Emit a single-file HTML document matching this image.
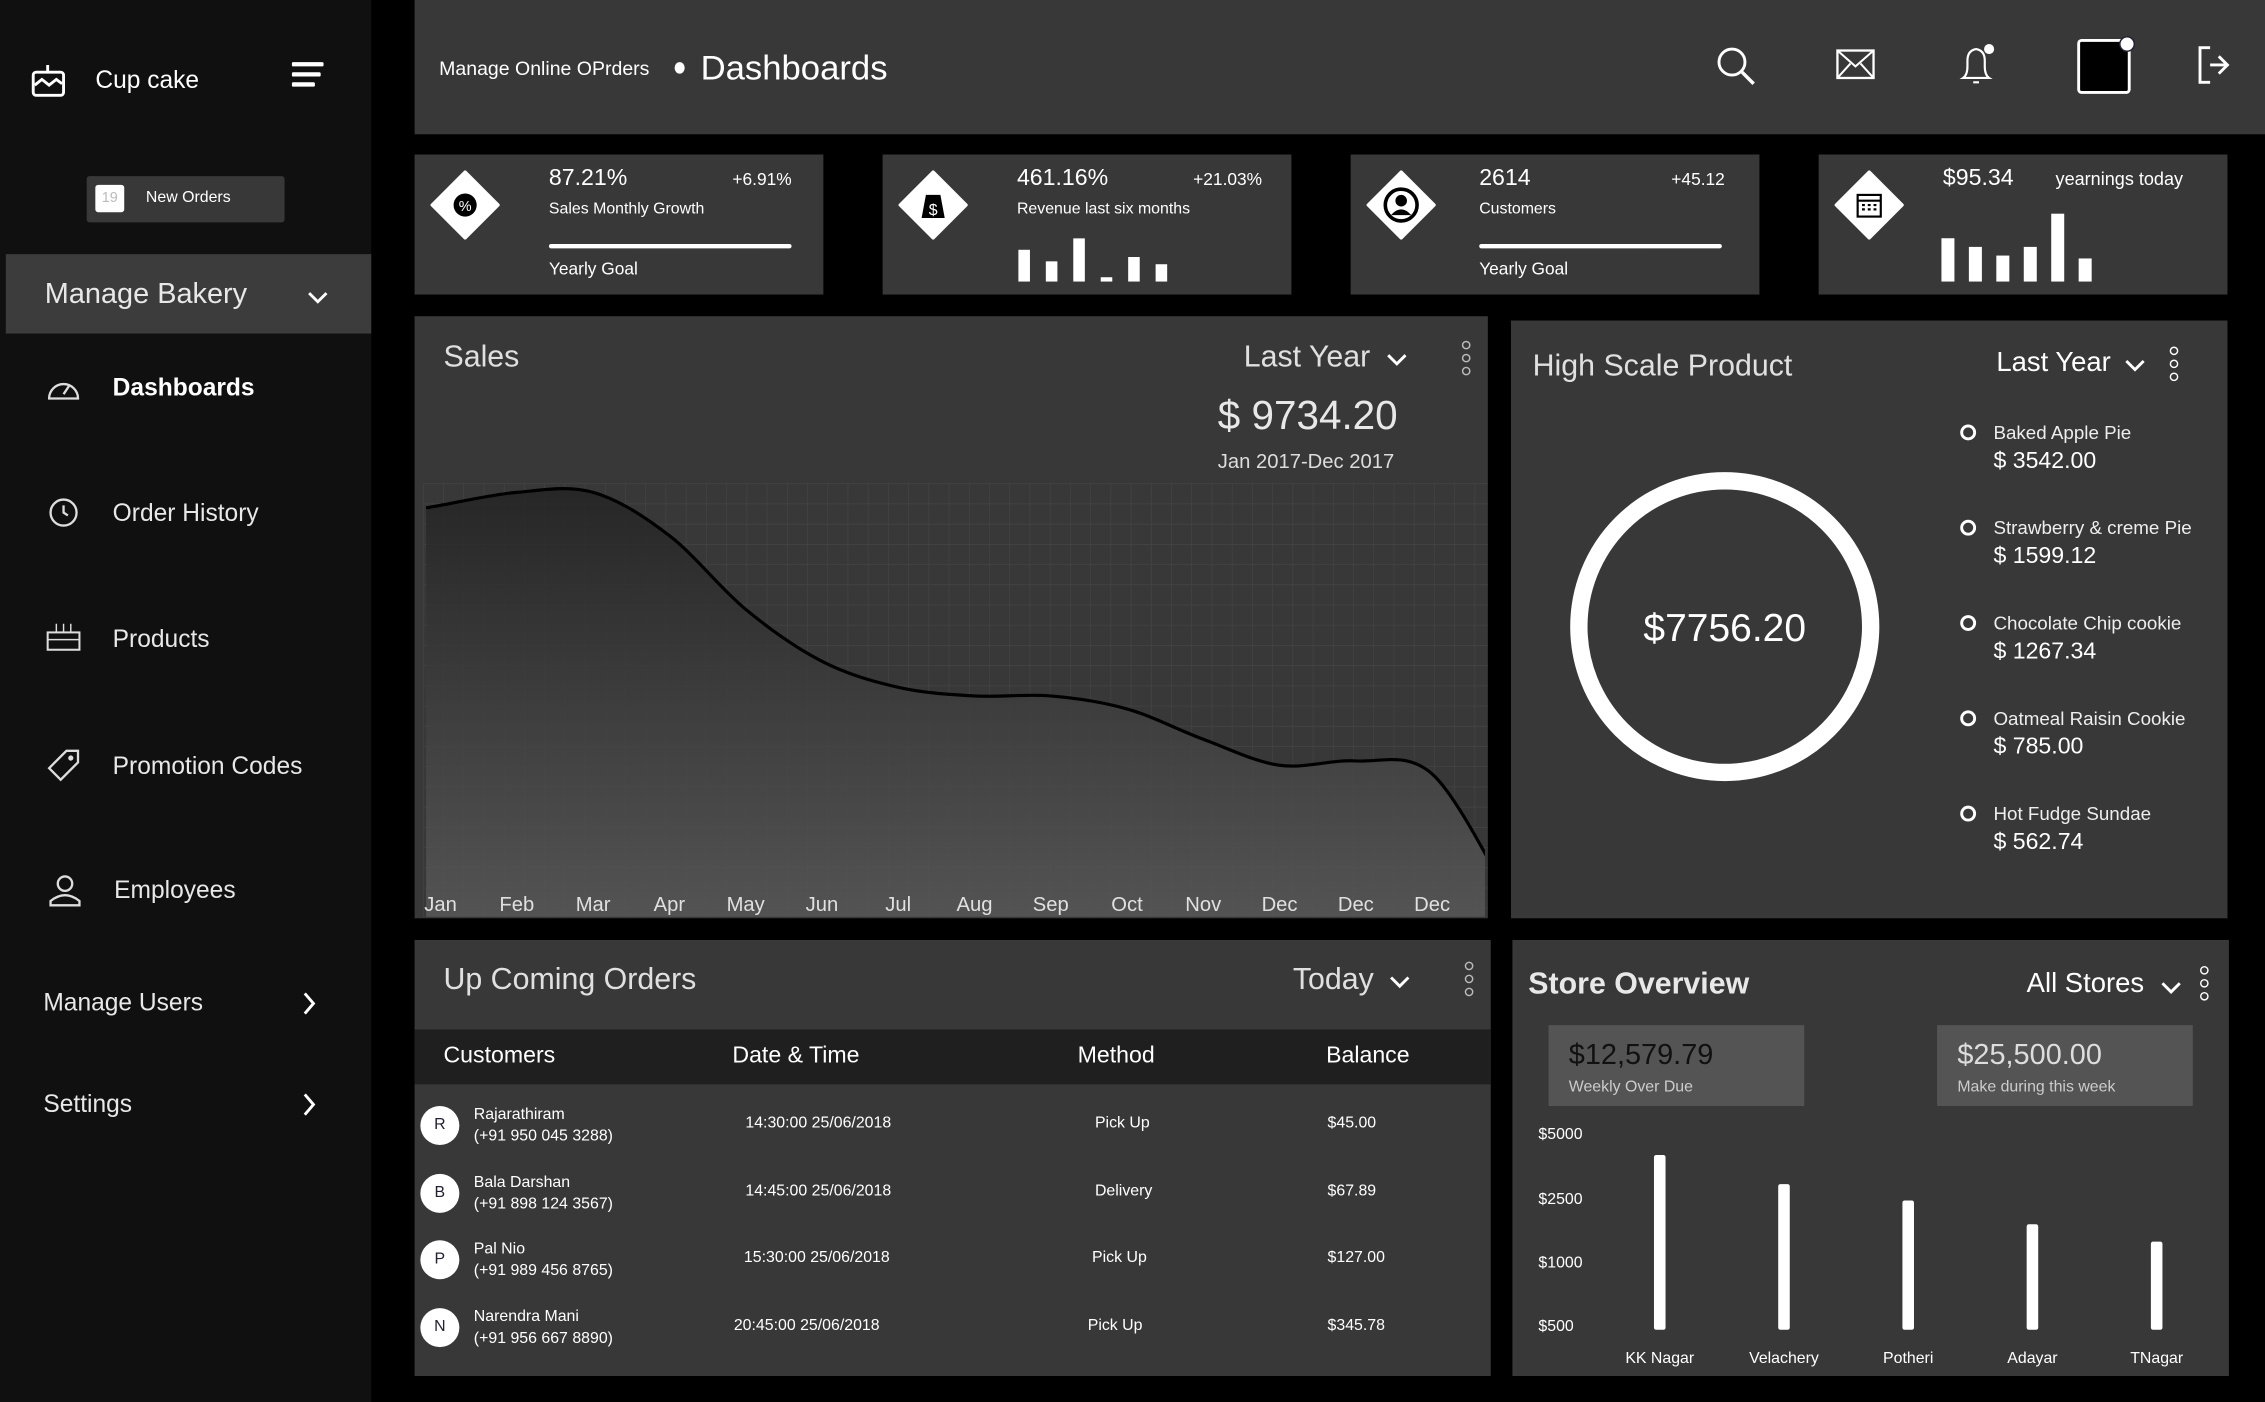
<!DOCTYPE html>
<html><head><meta charset="utf-8">
<style>
html,body{margin:0;padding:0;background:#000;overflow:hidden;width:2265px;height:1402px}
#root{position:absolute;left:0;top:0;width:1568px;height:971px;transform-origin:0 0;transform:scale(1.44452,1.44387);background:#000;font-family:"Liberation Sans",sans-serif;color:#fff}
.a{position:absolute}
.p{position:absolute;background:#383838}
.t{position:absolute;white-space:nowrap}
.nav{position:absolute;left:78px;font-size:17px;color:#e8e8e8}
.dots{position:absolute;width:4px}
.dots i{display:block;width:4px;height:4px;border:1px solid #bbb;border-radius:50%;margin-bottom:3px}
</style></head><body>
<div id="root">
<!-- sidebar -->
<div class="a" style="left:0;top:0;width:257px;height:971px;background:#101010"></div>
<svg class="a" style="left:21px;top:44px" width="26" height="24" viewBox="0 0 26 24"><rect x="2" y="6" width="21" height="16" rx="2" fill="none" stroke="#fff" stroke-width="2"/><path d="M3 15 L8 11 L13 15 L18 11 L22 14" fill="none" stroke="#fff" stroke-width="2"/><line x1="12" y1="1" x2="12" y2="6" stroke="#fff" stroke-width="2"/></svg>
<div class="t" style="left:66px;top:46px;font-size:17px">Cup cake</div>
<svg class="a" style="left:202px;top:42px" width="24" height="20"><rect x="0" y="1" width="22" height="3" rx="1" fill="#fff"/><rect x="0" y="8" width="20" height="3" rx="1" fill="#fff"/><rect x="0" y="15" width="16" height="3" rx="1" fill="#fff"/></svg>
<div class="a" style="left:60px;top:122px;width:137px;height:32px;background:#383838;border-radius:2px">
 <div class="a" style="left:6px;top:6px;width:20px;height:19px;background:#fff;border-radius:2px;color:#bbb;font-size:10px;text-align:center;line-height:19px">19</div>
 <div class="t" style="left:41px;top:9px;font-size:11px">New Orders</div>
</div>
<div class="a" style="left:4px;top:176px;width:253px;height:55px;background:#3c3c3c">
 <div class="t" style="left:27px;top:17px;font-size:20px;color:#e8e8e8">Manage Bakery</div>
 <svg class="a" style="left:208px;top:25px" width="16" height="10"><path d="M2 2 L8 8 L14 2" fill="none" stroke="#fff" stroke-width="2"/></svg>
</div>
<svg class="a" style="left:31px;top:257px" width="26" height="22"><path d="M3 19 A10 10 0 1 1 23 19 Z" fill="none" stroke="#ddd" stroke-width="1.6"/><line x1="13" y1="16" x2="17" y2="10" stroke="#ddd" stroke-width="1.6"/></svg>
<div class="nav" style="top:259px;color:#fff;font-weight:bold">Dashboards</div>
<svg class="a" style="left:32px;top:343px" width="24" height="24"><circle cx="12" cy="12" r="9" fill="none" stroke="#ddd" stroke-width="1.6"/><path d="M12 7 V12 L15 14" fill="none" stroke="#ddd" stroke-width="1.6"/></svg>
<div class="nav" style="top:346px">Order History</div>
<svg class="a" style="left:31px;top:430px" width="26" height="22"><rect x="2" y="8" width="22" height="12" fill="none" stroke="#ddd" stroke-width="1.4"/><line x1="2" y1="13" x2="24" y2="13" stroke="#ddd"/><line x1="8" y1="2" x2="8" y2="8" stroke="#ddd"/><line x1="13" y1="2" x2="13" y2="8" stroke="#ddd"/><line x1="18" y1="2" x2="18" y2="8" stroke="#ddd"/></svg>
<div class="nav" style="top:433px">Products</div>
<svg class="a" style="left:31px;top:517px" width="26" height="26"><path d="M3 15 L15 3 H23 V11 L11 23 Z" fill="none" stroke="#ddd" stroke-width="1.6"/><circle cx="18" cy="8" r="1.8" fill="#ddd"/></svg>
<div class="nav" style="top:521px">Promotion Codes</div>
<svg class="a" style="left:33px;top:604px" width="24" height="24"><circle cx="12" cy="8" r="5" fill="none" stroke="#ddd" stroke-width="1.6"/><path d="M2 23 V20 Q12 12 22 20 V23 Z" fill="none" stroke="#ddd" stroke-width="1.6"/></svg>
<div class="nav" style="top:607px;left:79px">Employees</div>
<div class="nav" style="left:30px;top:685px">Manage Users</div>
<svg class="a" style="left:208px;top:686px" width="12" height="18"><path d="M3 2 L9 9 L3 16" fill="none" stroke="#fff" stroke-width="2"/></svg>
<div class="nav" style="left:30px;top:755px">Settings</div>
<svg class="a" style="left:208px;top:756px" width="12" height="18"><path d="M3 2 L9 9 L3 16" fill="none" stroke="#fff" stroke-width="2"/></svg>

<!-- header -->
<div class="p" style="left:287px;top:0;width:1281px;height:93px">
 <div class="t" style="left:17px;top:40px;font-size:13.5px">Manage Online OPrders</div>
 <div class="a" style="left:180px;top:43px;width:7px;height:8px;border-radius:50%;background:#fff"></div>
 <div class="t" style="left:198px;top:34px;font-size:24px">Dashboards</div>
 <svg class="a" style="left:900px;top:31px" width="30" height="30"><circle cx="12" cy="12" r="9" fill="none" stroke="#fff" stroke-width="2"/><line x1="19" y1="19" x2="27" y2="27" stroke="#fff" stroke-width="2.4"/></svg>
 <svg class="a" style="left:984px;top:33px" width="28" height="24"><rect x="1" y="2" width="25" height="19" fill="none" stroke="#fff" stroke-width="1.6"/><path d="M1 2 L13.5 13 L26 2 M1 21 L10 11 M26 21 L17 11" fill="none" stroke="#fff" stroke-width="1.4"/></svg>
 <svg class="a" style="left:1067px;top:30px" width="30" height="30"><path d="M5 24 Q8 22 8 16 V12 Q8 5 14 4 Q20 5 20 12 V16 Q20 22 23 24 Z" fill="none" stroke="#fff" stroke-width="1.5"/><line x1="12" y1="27" x2="16" y2="27" stroke="#fff" stroke-width="1.5"/><circle cx="23" cy="4" r="3.5" fill="#fff"/></svg>
 <div class="a" style="left:1151px;top:27px;width:33px;height:34px;background:#000;border:2px solid #fff;border-radius:3px"></div>
 <div class="a" style="left:1180px;top:25px;width:9px;height:9px;border-radius:50%;background:#fff;border:1px solid #223"></div>
 <svg class="a" style="left:1233px;top:31px" width="26" height="28"><path d="M10 2 H3 V26 H10" fill="none" stroke="#fff" stroke-width="2"/><path d="M10 14 H22 M16 8 L22 14 L16 20" fill="none" stroke="#fff" stroke-width="2"/></svg>
</div>

<!-- KPI cards -->
<div class="p" style="left:287px;top:107px;width:283px;height:97px">
 <svg class="a" style="left:11px;top:11px" width="48" height="48"><path d="M24 1 L47 24 L24 47 L1 24 Z" fill="#fff" stroke="#fff" stroke-width="2" stroke-linejoin="round"/><circle cx="24" cy="24" r="8" fill="#000"/><text x="24" y="28" font-size="10" fill="#fff" text-anchor="middle" font-family="Liberation Sans">%</text></svg>
 <div class="t" style="left:93px;top:8px;font-size:16px">87.21%</div>
 <div class="t" style="left:220px;top:10px;font-size:12px">+6.91%</div>
 <div class="t" style="left:93px;top:32px;font-size:11px">Sales Monthly Growth</div>
 <div class="a" style="left:93px;top:62px;width:168px;height:3px;background:#fff;border-radius:2px"></div>
 <div class="t" style="left:93px;top:72px;font-size:12px">Yearly Goal</div>
</div>
<div class="p" style="left:611px;top:107px;width:283px;height:97px">
 <svg class="a" style="left:11px;top:11px" width="48" height="48"><path d="M24 1 L47 24 L24 47 L1 24 Z" fill="#fff" stroke="#fff" stroke-width="2" stroke-linejoin="round"/><path d="M19 17 H29 L32 33 H16 Z" fill="#000"/><text x="24" y="31" font-size="11" fill="#fff" text-anchor="middle" font-family="Liberation Sans">$</text></svg>
 <div class="t" style="left:93px;top:8px;font-size:16px">461.16%</div>
 <div class="t" style="left:215px;top:10px;font-size:12px">+21.03%</div>
 <div class="t" style="left:93px;top:32px;font-size:11px">Revenue last six months</div>
 <svg id="revbars" class="a" style="left:90px;top:58px" width="120" height="32"></svg>
</div>
<div class="p" style="left:935px;top:107px;width:283px;height:97px">
 <svg class="a" style="left:11px;top:11px" width="48" height="48"><path d="M24 1 L47 24 L24 47 L1 24 Z" fill="#fff" stroke="#fff" stroke-width="2" stroke-linejoin="round"/><circle cx="24" cy="24" r="11" fill="none" stroke="#000" stroke-width="2.5"/><circle cx="24" cy="21" r="4" fill="#000"/><path d="M17 31 Q24 23 31 31" fill="#000"/></svg>
 <div class="t" style="left:89px;top:8px;font-size:16px">2614</div>
 <div class="t" style="left:222px;top:10px;font-size:12px">+45.12</div>
 <div class="t" style="left:89px;top:32px;font-size:11px">Customers</div>
 <div class="a" style="left:89px;top:62px;width:168px;height:3px;background:#fff;border-radius:2px"></div>
 <div class="t" style="left:89px;top:72px;font-size:12px">Yearly Goal</div>
</div>
<div class="p" style="left:1259px;top:107px;width:283px;height:97px">
 <svg class="a" style="left:11px;top:11px" width="48" height="48"><path d="M24 1 L47 24 L24 47 L1 24 Z" fill="#fff" stroke="#fff" stroke-width="2" stroke-linejoin="round"/><rect x="16" y="17" width="16" height="15" fill="none" stroke="#000" stroke-width="1.5"/><line x1="16" y1="21" x2="32" y2="21" stroke="#000" stroke-width="1.5"/><path d="M19 24h2M23 24h2M27 24h2M19 27h2M23 27h2M27 27h2" stroke="#000" stroke-width="1.5"/></svg>
 <div class="t" style="left:86px;top:8px;font-size:16px">$95.34</div>
 <div class="t" style="left:164px;top:10px;font-size:12.5px">yearnings today</div>
 <svg id="earnbars" class="a" style="left:84px;top:38px" width="110" height="52"></svg>
</div>

<!-- Sales panel -->
<div class="p" style="left:287px;top:219px;width:743px;height:417px"></div>
<div class="t" style="left:307px;top:236px;font-size:21px;color:#e0e0e0">Sales</div>
<div class="t" style="left:861px;top:236px;font-size:21px;color:#e0e0e0">Last Year</div>
<svg class="a" style="left:959px;top:244px" width="16" height="10"><path d="M2 2 L8 8 L14 2" fill="none" stroke="#fff" stroke-width="2"/></svg>
<div class="dots" style="left:1012px;top:236px"><i></i><i></i><i></i></div>
<div class="t" style="left:843px;top:272px;font-size:28px;color:#e8e8e8">$ 9734.20</div>
<div class="t" style="left:843px;top:311px;font-size:14px;color:#ddd">Jan 2017-Dec 2017</div>
<svg id="sales" class="a" style="left:287px;top:219px" width="743" height="417"></svg>

<!-- High scale product -->
<div class="p" style="left:1046px;top:222px;width:496px;height:414px">
 <div class="t" style="left:15px;top:20px;font-size:21px;color:#e0e0e0">High Scale Product</div>
 <div class="t" style="left:336px;top:19px;font-size:19px">Last Year</div>
 <svg class="a" style="left:424px;top:26px" width="16" height="10"><path d="M2 2 L8 8 L14 2" fill="none" stroke="#fff" stroke-width="2"/></svg>
 <div class="dots" style="left:456px;top:18px"><i style="border-color:#fff"></i><i style="border-color:#fff"></i><i style="border-color:#fff"></i></div>
 <svg class="a" style="left:40px;top:104px" width="216" height="216"><circle cx="108" cy="108" r="101" fill="none" stroke="#fff" stroke-width="12"/><text x="108" y="118" font-size="27" fill="#fff" text-anchor="middle" font-family="Liberation Sans">$7756.20</text></svg>
 <div id="legend"></div>
</div>

<!-- Upcoming orders -->
<div class="p" style="left:287px;top:651px;width:745px;height:302px">
 <div class="t" style="left:20px;top:16px;font-size:21px;color:#e0e0e0">Up Coming Orders</div>
 <div class="t" style="left:608px;top:16px;font-size:21px;color:#e0e0e0">Today</div>
 <svg class="a" style="left:674px;top:24px" width="16" height="10"><path d="M2 2 L8 8 L14 2" fill="none" stroke="#fff" stroke-width="2"/></svg>
 <div class="dots" style="left:727px;top:15px"><i></i><i></i><i></i></div>
 <div class="a" style="left:0;top:62px;width:745px;height:38px;background:#1f1f1f">
  <div class="t" style="left:20px;top:10px;font-size:16px">Customers</div>
  <div class="t" style="left:220px;top:10px;font-size:16px">Date &amp; Time</div>
  <div class="t" style="left:459px;top:10px;font-size:16px">Method</div>
  <div class="t" style="left:631px;top:10px;font-size:16px">Balance</div>
 </div>
 <div id="rows"></div>
</div>

<!-- Store overview -->
<div class="p" style="left:1047px;top:651px;width:496px;height:302px">
 <div class="t" style="left:11px;top:19px;font-size:21px;font-weight:bold;color:#e8e8e8">Store Overview</div>
 <div class="t" style="left:356px;top:20px;font-size:19px">All Stores</div>
 <svg class="a" style="left:448px;top:28px" width="16" height="10"><path d="M2 2 L8 8 L14 2" fill="none" stroke="#fff" stroke-width="2"/></svg>
 <div class="dots" style="left:476px;top:18px"><i style="border-color:#fff"></i><i style="border-color:#fff"></i><i style="border-color:#fff"></i></div>
 <div class="a" style="left:25px;top:59px;width:177px;height:56px;background:#545454">
  <div class="t" style="left:14px;top:10px;font-size:20px;color:#111">$12,579.79</div>
  <div class="t" style="left:14px;top:37px;font-size:11px;color:#ccc">Weekly Over Due</div>
 </div>
 <div class="a" style="left:294px;top:59px;width:177px;height:56px;background:#545454">
  <div class="t" style="left:14px;top:10px;font-size:20px;color:#ddd">$25,500.00</div>
  <div class="t" style="left:14px;top:37px;font-size:11px;color:#ccc">Make during this week</div>
 </div>
 <svg id="store" class="a" style="left:0;top:0" width="496" height="302"></svg>
</div>
</div>

<script>
// ---- data ----
const revenueBars = [22, 14, 30, 3, 17, 12];
const earningsBars = [30, 24, 18, 24, 47, 16];
const salesMonths = ["Jan","Feb","Mar","Apr","May","Jun","Jul","Aug","Sep","Oct","Nov","Dec","Dec","Dec"];
const salesValues = [95, 98, 98, 88, 71, 59, 53, 51, 51, 48, 41, 35, 36, 33, 5];
const productNames = ["Baked Apple Pie","Strawberry & creme Pie","Chocolate Chip cookie","Oatmeal Raisin Cookie","Hot Fudge Sundae"];
const productValues = ["$ 3542.00","$ 1599.12","$ 1267.34","$ 785.00","$ 562.74"];
const orderNames = ["Rajarathiram","Bala Darshan","Pal Nio","Narendra Mani"];
const orderPhones = ["(+91 950 045 3288)","(+91 898 124 3567)","(+91 989 456 8765)","(+91 956 667 8890)"];
const orderTimes = ["14:30:00 25/06/2018","14:45:00 25/06/2018","15:30:00 25/06/2018","20:45:00 25/06/2018"];
const orderMethods = ["Pick Up","Delivery","Pick Up","Pick Up"];
const orderBalances = ["$45.00","$67.89","$127.00","$345.78"];
const storeNames = ["KK Nagar","Velachery","Potheri","Adayar","TNagar"];
const storeValues = [4170, 3050, 2450, 1890, 1480];
const storeTicks = [500, 1000, 2500, 5000];
const storeTickLabels = ["$500","$1000","$2500","$5000"];

const NS = "http://www.w3.org/2000/svg";
function mk(tag, attrs, parent){const e=document.createElementNS(NS,tag);for(const k in attrs)e.setAttribute(k,attrs[k]);parent.appendChild(e);return e;}

// mini bars
(function(){
  const s=document.getElementById('revbars');
  revenueBars.forEach((v,i)=>{
    const r=mk('rect',{x:4+i*19,y:30-v,width:8,height:v,fill:'#fff'},s);
    
    
  });
  const e=document.getElementById('earnbars');
  earningsBars.forEach((v,i)=>{
    const r=mk('rect',{x:1+i*19,y:50-v,width:9,height:v,fill:'#fff'},e);
    
    
  });
})();

// sales chart
(function(){
  const s=document.getElementById('sales');
  const x0=6, x1=743, yTop=116, yBot=416;
  const xs=i=>18+i*52.8;
  const ys=v=>yBot-(v/100)*(yBot-yTop);
  const defs=mk('defs',{},s);
  const g=mk('linearGradient',{id:'ag',x1:0,y1:0,x2:0,y2:1},defs);
  mk('stop',{offset:'0','stop-color':'#222'},g);
  mk('stop',{offset:'1','stop-color':'#5a5a5a'},g);
  const cp=mk('clipPath',{id:'cp'},defs);
  mk('rect',{x:x0,y:yTop-5,width:x1-x0-2,height:yBot-yTop+5},cp);
  const grid=mk('g',{stroke:'#444','stroke-width':0.5},s);
  for(let gx=x0;gx<x1;gx+=14) mk('line',{x1:gx,y1:yTop,x2:gx,y2:yBot},grid);
  for(let gy=yTop;gy<yBot;gy+=14) mk('line',{x1:x0,y1:gy,x2:x1,y2:gy},grid);
  const pts=salesValues.map((v,i)=>[xs(i),ys(v)]);
  // extend to left edge
  const slope=(pts[1][1]-pts[0][1])/(pts[1][0]-pts[0][0]);
  pts.unshift([x0+2,pts[0][1]-slope*(pts[0][0]-x0-2)]);
  let d='M'+pts[0][0]+','+pts[0][1];
  for(let i=0;i<pts.length-1;i++){
    const p0=pts[Math.max(0,i-1)],p1=pts[i],p2=pts[i+1],p3=pts[Math.min(pts.length-1,i+2)];
    const c1=[p1[0]+(p2[0]-p0[0])/6,p1[1]+(p2[1]-p0[1])/6];
    const c2=[p2[0]-(p3[0]-p1[0])/6,p2[1]-(p3[1]-p1[1])/6];
    d+=` C${c1[0]},${c1[1]} ${c2[0]},${c2[1]} ${p2[0]},${p2[1]}`;
  }
  const last=pts[pts.length-1];
  const area=mk('path',{d:d+` L${last[0]},${yBot} L${pts[0][0]},${yBot} Z`,fill:'url(#ag)',opacity:0.8,'clip-path':'url(#cp)'},s);
  
  
  const line=mk('path',{d:d,fill:'none',stroke:'#000','stroke-width':2.2,'clip-path':'url(#cp)'},s);
  
  
  salesMonths.forEach((m,i)=>{
    const t=mk('text',{x:xs(i),y:412,'font-size':14,fill:'#e0e0e0','text-anchor':'middle','font-family':'Liberation Sans'},s);
    t.textContent=m;
    
    
  });
})();

// legend
(function(){
  const L=document.getElementById('legend');
  productNames.forEach((n,i)=>{
    const d=document.createElement('div');
    d.className='a';
    d.style.cssText=`left:310px;top:${70+i*66}px;width:180px;height:50px`;
    
    
    d.innerHTML=`<div class="a" style="left:1px;top:2px;width:7px;height:7px;border:2px solid #fff;border-radius:50%"></div><div class="t" style="left:24px;top:0;font-size:13px;color:#eee">${n}</div><div class="t" style="left:24px;top:19px;font-size:16px">${productValues[i]}</div>`;
    L.appendChild(d);
  });
})();

// orders rows
(function(){
  const R=document.getElementById('rows');
  orderNames.forEach((n,i)=>{
    const d=document.createElement('div');
    d.className='a';
    d.style.cssText=`left:0;top:${112+i*46.5}px;width:745px;height:40px`;
    
    
    const tx=[229,229,228,221][i], mx=[471,471,469,466][i];
    d.innerHTML=`<div class="a" style="left:4px;top:3px;width:27px;height:27px;border-radius:50%;background:#fff;color:#223;font-size:11px;text-align:center;line-height:27px">${n[0]}</div>
    <div class="t" style="left:41px;top:3px;font-size:11px">${n}</div>
    <div class="t" style="left:41px;top:18px;font-size:11px">${orderPhones[i]}</div>
    <div class="t" style="left:${tx}px;top:9px;font-size:11px">${orderTimes[i]}</div>
    <div class="t" style="left:${mx}px;top:9px;font-size:11px">${orderMethods[i]}</div>
    <div class="t" style="left:632px;top:9px;font-size:11px">${orderBalances[i]}</div>`;
    R.appendChild(d);
  });
})();

// store bar chart
(function(){
  const s=document.getElementById('store');
  const tickY=[267,223,179,134];
  function yv(v){
    for(let k=0;k<storeTicks.length-1;k++){
      if(v<=storeTicks[k+1]){const f=(v-storeTicks[k])/(storeTicks[k+1]-storeTicks[k]);return tickY[k]+f*(tickY[k+1]-tickY[k]);}
    }
    return tickY[tickY.length-1];
  }
  storeTickLabels.forEach((l,i)=>{
    const t=mk('text',{x:18,y:tickY[i]+4,'font-size':11,fill:'#fff','font-family':'Liberation Sans'},s);
    t.textContent=l;
    
    
  });
  const base=270;
  storeNames.forEach((n,i)=>{
    const cx=102+i*86;
    const top=yv(storeValues[i]);
    const r=mk('rect',{x:cx-4,y:top,width:8,height:base-top,rx:1.5,fill:'#fff'},s);
    
    
    const t=mk('text',{x:cx,y:293,'font-size':11,fill:'#fff','text-anchor':'middle','font-family':'Liberation Sans'},s);
    t.textContent=n;
    
    
  });
})();
</script>
</body></html>
